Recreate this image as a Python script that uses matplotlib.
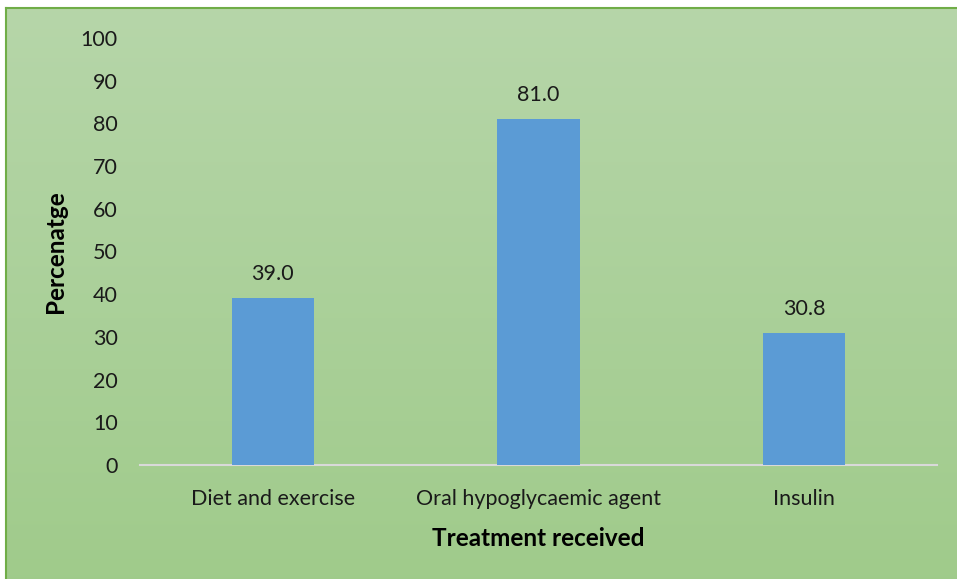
import numpy as np
import matplotlib
matplotlib.use("Agg")
import matplotlib.pyplot as plt

plt.rcParams['font.family'] = ['Lato', 'DejaVu Sans']

categories = ["Diet and exercise", "Oral hypoglycaemic agent", "Insulin"]
values = [39.0, 81.0, 30.8]
yticks = list(range(0, 101, 10))

W, H = 957, 579
fig = plt.figure(figsize=(W / 100, H / 100), dpi=100)
fig.patch.set_facecolor("white")

# gradient background with green border on top and left
bg = fig.add_axes([6 / W, 0, 1 - 6 / W, 1 - 8 / H])
bg.set_zorder(-10)
grad = np.linspace(0, 1, 256).reshape(-1, 1)
top = np.array([0.714, 0.839, 0.663])
bot = np.array([0.627, 0.796, 0.545])
img = top + (bot - top) * grad[:, :, None]
bg.imshow(img, aspect="auto", extent=[0, 1, 0, 1], origin="upper")
bg.set_xticks([])
bg.set_yticks([])
for side, s in bg.spines.items():
    s.set_color("#70ad47")
    s.set_linewidth(1.5)
    if side in ("bottom", "right"):
        s.set_visible(False)

ax = fig.add_axes([140 / W, 1 - 465 / H, (937 - 140) / W, (465 - 38) / H])
ax.patch.set_alpha(0)
x = np.arange(len(categories))
bars = ax.bar(x, values, width=0.31, color="#5b9bd5", zorder=3)
for b, v in zip(bars, values):
    ax.text(b.get_x() + b.get_width() / 2, v + 3.3, f"{v:.1f}",
            ha="center", va="bottom", fontsize=15.5, color="#1a1a1a")

ax.set_xlim(-0.5, len(categories) - 0.5)
ax.set_ylim(0, 100)
ax.set_yticks(yticks)
ax.set_xticks(x)
ax.set_xticklabels(categories)
ax.tick_params(axis="both", length=0, labelsize=15.5, colors="#1a1a1a")
ax.tick_params(axis="x", pad=17)
ax.tick_params(axis="y", pad=16)
for side in ["top", "right", "left"]:
    ax.spines[side].set_visible(False)
ax.spines["bottom"].set_color("#d9d9d9")
ax.spines["bottom"].set_linewidth(1.5)

ax.set_xlabel("Treatment received", fontsize=17.5, fontweight="bold", labelpad=13)
ax.set_ylabel("Percenatge", fontsize=17.5, fontweight="bold", labelpad=10)

fig.savefig("out.png", dpi=100)
